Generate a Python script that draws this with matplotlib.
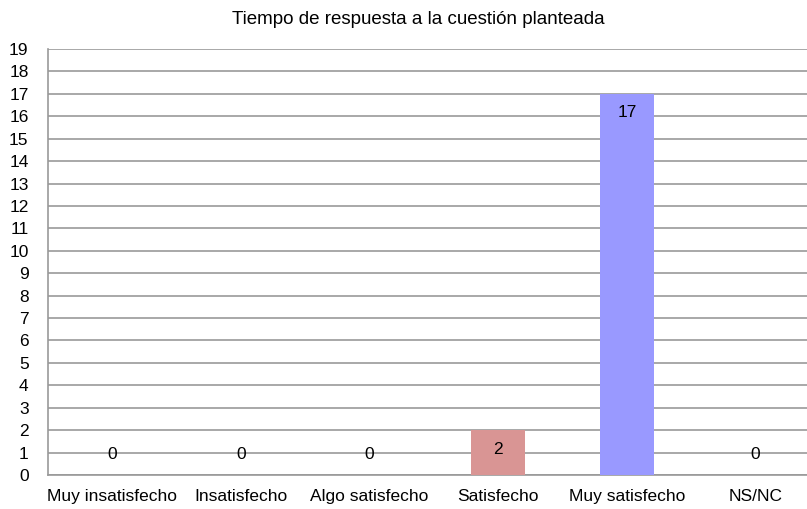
import matplotlib
matplotlib.use("Agg")
import matplotlib.pyplot as plt

# Data
categories = ["Muy insatisfecho", "Insatisfecho", "Algo satisfecho",
              "Satisfecho", "Muy satisfecho", "NS/NC"]
values = [0, 0, 0, 2, 17, 0]
colors = ["#D99594", "#D99594", "#D99594", "#D99594", "#9999FF", "#9999FF"]
yticks = list(range(0, 20))

plt.rcParams["font.family"] = ["Liberation Sans", "DejaVu Sans"]
plt.rcParams["font.size"] = 12.5

fig = plt.figure(figsize=(8.07, 5.09), dpi=100)
W, H = 807.0, 509.0
ax = fig.add_axes([48 / W, (H - 475) / H, 772 / W, 426 / H])

x = list(range(len(categories)))
bars = ax.bar(x, values, width=0.42, color=colors, zorder=3)

for xi, v in zip(x, values):
    if v > 0:
        ax.text(xi, v - 0.85, str(v), ha="center", va="center", zorder=4)
    else:
        ax.text(xi, 0.9, str(v), ha="center", va="center", zorder=4)

ax.set_xlim(-0.5, 5.5)
ax.set_ylim(0, 19)
ax.set_yticks(yticks)
ax.set_xticks(x)
ax.set_xticklabels(categories)
ax.yaxis.grid(True, color="#999999", linewidth=1.2, zorder=0)
ax.tick_params(axis="both", length=0)
ax.tick_params(axis="y", pad=14)
ax.tick_params(axis="x", pad=10)

for s in ["top", "right"]:
    ax.spines[s].set_visible(False)
ax.spines["left"].set_color("#999999")
ax.spines["bottom"].set_color("#999999")
ax.spines["left"].set_linewidth(1.2)
ax.spines["bottom"].set_linewidth(1.2)

fig.text(418 / W, 1 - 20 / H, "Tiempo de respuesta a la cuestión planteada",
         ha="center", va="center", fontsize=13.5)

fig.savefig("out.png", dpi=100)
